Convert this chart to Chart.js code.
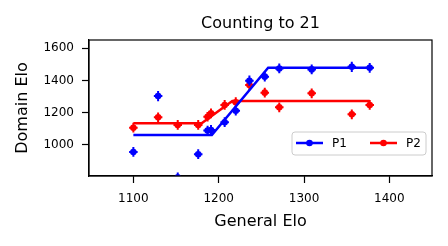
<!DOCTYPE html>
<html>
<head>
<meta charset="utf-8">
<script src="https://cdn.jsdelivr.net/npm/chart.js@4/dist/chart.umd.min.js"></script>
<style>
  html, body { margin: 0; padding: 0; background: #fff; }
</style>
</head>
<body>
<canvas id="mainChart" width="448" height="246"></canvas>
<script>
// values
const generalElo = [1100, 1129, 1152, 1176, 1187, 1191, 1207, 1220, 1236, 1254, 1271, 1309, 1356, 1377];
const p1Elo = [957, 1303, 800, 943, 1089, 1093, 1141, 1212, 1398, 1423, 1474, 1468, 1484, 1478];
const p2Elo = [1107, 1171, 1124, 1124, 1175, 1196, 1248, 1265, 1371, 1324, 1233, 1320, 1190, 1248];
const xErr = [5, 5, 5, 5, 5, 5, 5, 5, 5, 5, 5, 5, 5, 5];
const p1Err = [30, 32, 30, 30, 30, 30, 30, 30, 32, 30, 30, 30, 32, 30];
const p2Err = [30, 30, 30, 30, 30, 30, 30, 30, 30, 30, 30, 30, 30, 30];

const p1FitX = [1100, 1192, 1258, 1377];
const p1FitY = [1062, 1062, 1478, 1478];
const p2FitX = [1100, 1180, 1216, 1377];
const p2FitY = [1134, 1134, 1272, 1272];

const xTicks = [1100, 1200, 1300, 1400];
const yTicks = [1000, 1200, 1400, 1600];

const BLUE = '#0000ff';
const RED = '#ff0000';
const FONT = 'DejaVu Sans';

Chart.defaults.font.family = FONT;
Chart.defaults.color = '#000';

const toPoints = (xs, ys) => xs.map((x, i) => ({ x, y: ys[i] }));

const errorBars = {
    id: 'errorBars',
    afterDatasetDraw(chart, args) {
        const ds = chart.data.datasets[args.index];
        if (!ds.yErr) return;
        const { ctx, chartArea: a, scales: { x, y } } = chart;
        ctx.save();
        ctx.beginPath();
        ctx.rect(a.left, a.top, a.right - a.left, a.bottom - a.top);
        ctx.clip();
        ctx.strokeStyle = ds.backgroundColor;
        ctx.lineWidth = 2;
        ds.data.forEach((p, i) => {
            const px = x.getPixelForValue(p.x);
            const py = y.getPixelForValue(p.y);
            ctx.beginPath();
            ctx.moveTo(x.getPixelForValue(p.x - ds.xErr[i]), py);
            ctx.lineTo(x.getPixelForValue(p.x + ds.xErr[i]), py);
            ctx.moveTo(px, y.getPixelForValue(p.y - ds.yErr[i]));
            ctx.lineTo(px, y.getPixelForValue(p.y + ds.yErr[i]));
            ctx.stroke();
        });
        ctx.restore();
    }
};

const frameAndLegend = {
    id: 'frameAndLegend',
    afterDatasetsDraw(chart) {
        const { ctx, chartArea: a } = chart;
        ctx.save();
        ctx.strokeStyle = '#000';
        ctx.lineWidth = 1.2;
        ctx.strokeRect(a.left, a.top, a.right - a.left, a.bottom - a.top);
        ctx.restore();
    },
    afterDraw(chart) {
        const { ctx, chartArea: a } = chart;
        ctx.save();
        // title, centred over the axes
        ctx.font = '16px "' + FONT + '"';
        ctx.fillStyle = '#000';
        ctx.textAlign = 'center';
        ctx.textBaseline = 'alphabetic';
        ctx.fillText('Counting to 21', (a.left + a.right) / 2, 28.4);

        // legend box
        const bx = a.right - 140, by = a.bottom - 44, bw = 134, bh = 23;
        ctx.beginPath();
        ctx.roundRect(bx, by, bw, bh, 3);
        ctx.fillStyle = 'rgba(255,255,255,0.8)';
        ctx.fill();
        ctx.strokeStyle = '#cccccc';
        ctx.lineWidth = 1;
        ctx.stroke();

        const entries = [
            { label: 'P1', color: BLUE, x: bx + 4 },
            { label: 'P2', color: RED, x: bx + 78 }
        ];
        const cy = by + 11;
        ctx.font = '12px "' + FONT + '"';
        ctx.textAlign = 'left';
        ctx.textBaseline = 'middle';
        entries.forEach(e => {
            ctx.strokeStyle = e.color;
            ctx.lineWidth = 2.5;
            ctx.beginPath();
            ctx.moveTo(e.x, cy);
            ctx.lineTo(e.x + 27, cy);
            ctx.stroke();
            ctx.fillStyle = e.color;
            ctx.beginPath();
            ctx.arc(e.x + 13.5, cy, 3.3, 0, Math.PI * 2);
            ctx.fill();
            ctx.fillStyle = '#000';
            ctx.fillText(e.label, e.x + 36, cy + 0.5);
        });
        ctx.restore();
    }
};

const axisStyle = {
    grid: { display: true, drawOnChartArea: false, drawTicks: true, tickLength: 7, tickWidth: 1.2, tickColor: '#000' },
    border: { display: true, color: '#000', width: 1.2 }
};

const plainNumber = v => String(v);

new Chart(document.getElementById('mainChart').getContext('2d'), {
    type: 'scatter',
    data: {
        datasets: [
            {
                label: 'P1 fit',
                data: toPoints(p1FitX, p1FitY),
                showLine: true,
                borderColor: BLUE,
                borderWidth: 2.5,
                pointRadius: 0,
                order: 0
            },
            {
                label: 'P1',
                data: toPoints(generalElo, p1Elo),
                xErr: xErr,
                yErr: p1Err,
                backgroundColor: BLUE,
                borderWidth: 0,
                pointRadius: 3.3,
                clip: 0,
                order: 1
            },
            {
                label: 'P2 fit',
                data: toPoints(p2FitX, p2FitY),
                showLine: true,
                borderColor: RED,
                borderWidth: 2.5,
                pointRadius: 0,
                order: 2
            },
            {
                label: 'P2',
                data: toPoints(generalElo, p2Elo),
                xErr: xErr,
                yErr: p2Err,
                backgroundColor: RED,
                borderWidth: 0,
                pointRadius: 3.3,
                clip: 0,
                order: 3
            }
        ]
    },
    options: {
        responsive: false,
        animation: false,
        devicePixelRatio: 1,
        layout: { padding: { top: 40, right: 16, left: 0, bottom: 0 } },
        plugins: {
            legend: { display: false },
            title: { display: false },
            tooltip: { enabled: false }
        },
        scales: {
            x: {
                type: 'linear',
                min: 1048,
                max: 1450,
                afterBuildTicks: s => { s.ticks = xTicks.map(v => ({ value: v })); },
                afterFit: s => { s.height = 70; },
                ...axisStyle,
                ticks: { color: '#000', font: { size: 12 }, padding: 9, maxRotation: 0, callback: plainNumber },
                title: { display: true, text: 'General Elo', color: '#000', font: { size: 16 }, padding: { top: 0, bottom: 15 } }
            },
            y: {
                type: 'linear',
                min: 808,
                max: 1650,
                afterBuildTicks: s => { s.ticks = yTicks.map(v => ({ value: v })); },
                afterFit: s => { s.width = 89; },
                ...axisStyle,
                ticks: { color: '#000', font: { size: 12 }, padding: 8, callback: plainNumber },
                title: { display: true, text: 'Domain Elo', color: '#000', font: { size: 16 }, padding: { top: 13, bottom: 0 } }
            }
        }
    },
    plugins: [errorBars, frameAndLegend]
});
</script>
</body>
</html>
